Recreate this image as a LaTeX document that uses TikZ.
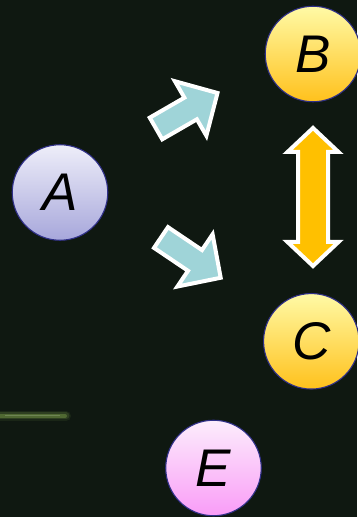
\documentclass[tikz,border=0pt]{standalone}
\usepackage{fontspec}
\setmainfont{Liberation Sans}
\definecolor{bg}{HTML}{0F1811}
\definecolor{rim}{HTML}{303088}
\definecolor{tealfill}{HTML}{9FD4D8}
\definecolor{orangefill}{HTML}{FFC000}
\definecolor{lavtop}{HTML}{EEEEF9}
\definecolor{lavbot}{HTML}{A7A7DB}
\definecolor{goldtop}{HTML}{FFFAA6}
\definecolor{goldbot}{HTML}{FFC11C}
\definecolor{pinktop}{HTML}{FCEDFC}
\definecolor{pinkbot}{HTML}{F99CF7}
\definecolor{moss}{HTML}{5E7A3A}
\begin{document}
\begin{tikzpicture}[x=1pt,y=1pt,
  ball/.style={circle, minimum size=95.5pt, inner sep=0pt, draw=rim, line width=1.1pt,
    font=\fontsize{53}{53}\selectfont\itshape},
  blockarrow/.style={draw=white, line width=4pt, line join=miter, fill=tealfill},
  dblarrow/.style={draw=white, line width=4pt, line join=miter, fill=orangefill}]
\fill[bg] (0,0) rectangle (357,517);
\useasboundingbox (0,0) rectangle (357,517);
% faint green streak
\draw[moss, line width=10pt, opacity=0.15, line cap=round] (-4,101) -- (66,101);
\draw[moss, line width=7pt, opacity=0.3, line cap=round] (-4,101) -- (66,101);
\draw[moss, line width=4pt, opacity=0.7, line cap=round] (-2,101) -- (65,101);
\draw[moss!60!white, line width=1.5pt, opacity=0.4] (5,101.5) -- (60,101.5);
% nodes
\node[ball, top color=lavtop, bottom color=lavbot] (A) at (60,324.5) {A};
\node[ball, top color=goldtop, bottom color=goldbot] (B) at (313,463) {B};
\node[ball, top color=goldtop, bottom color=goldbot] (C) at (311.3,175.7) {C};
\node[ball, top color=pinktop, bottom color=pinkbot] (E) at (213.5,49) {E};
% block arrows
\begin{scope}[shift={(156,388.5)}, rotate=30]
\draw[blockarrow] (0,-12.5) -- (40,-12.5) -- (40,-31.5) -- (71,0) -- (40,31.5) -- (40,12.5) -- (0,12.5) -- cycle;
\end{scope}
\begin{scope}[shift={(161,279.5)}, rotate=-34]
\draw[blockarrow] (0,-12.5) -- (41,-12.5) -- (41,-31.5) -- (72,0) -- (41,31.5) -- (41,12.5) -- (0,12.5) -- cycle;
\end{scope}
% double arrow between B and C
\draw[dblarrow] (313,389) -- (338.5,365) -- (328,365) -- (328,275) -- (338.5,275)
  -- (313,251) -- (287.5,275) -- (298,275) -- (298,365) -- (287.5,365) -- cycle;
\end{tikzpicture}
\end{document}
